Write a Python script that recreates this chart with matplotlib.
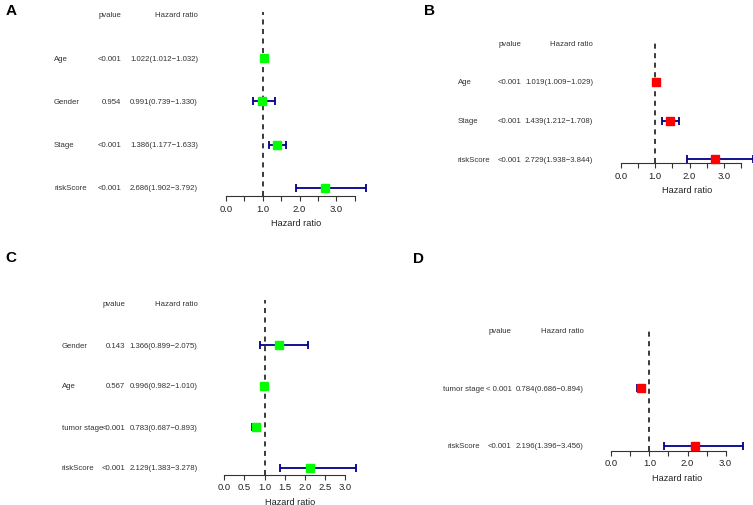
import numpy as np
import matplotlib
matplotlib.use("Agg")
import matplotlib.pyplot as plt
from matplotlib import transforms

plt.rcParams['font.family'] = ['Liberation Sans', 'DejaVu Sans']

W, H = 753, 506

# panel A
a_genes = ['Age', 'Gender', 'Stage', 'riskScore']
a_pval = ['<0.001', '0.954', '<0.001', '<0.001']
a_hr = [1.022, 0.991, 1.386, 2.686]
a_low = [1.012, 0.739, 1.177, 1.902]
a_high = [1.032, 1.330, 1.633, 3.792]

# panel B
b_genes = ['Age', 'Stage', 'riskScore']
b_pval = ['<0.001', '<0.001', '<0.001']
b_hr = [1.019, 1.439, 2.729]
b_low = [1.009, 1.212, 1.938]
b_high = [1.029, 1.708, 3.844]

# panel C
c_genes = ['Gender', 'Age', 'tumor stage', 'riskScore']
c_pval = ['0.143', '0.567', '<0.001', '<0.001']
c_hr = [1.366, 0.996, 0.783, 2.129]
c_low = [0.899, 0.982, 0.687, 1.383]
c_high = [2.075, 1.010, 0.893, 3.278]

# panel D
d_genes = ['tumor stage', 'riskScore']
d_pval = ['< 0.001', '<0.001']
d_hr = [0.784, 2.196]
d_low = [0.686, 1.396]
d_high = [0.894, 3.456]

fig = plt.figure(figsize=(W / 100, H / 100), dpi=100)
fig.patch.set_facecolor('white')


def fx(px):
    return px / W


def fy(py):
    return 1 - py / H


def forest(tag, genes, pvals, hr, low, high, box, L):
    n = len(genes)
    hr = np.array(hr)
    low = np.array(low)
    high = np.array(high)
    xmax = high.max()
    # y geometry in row units
    ybot = 1 - (L['ax_y'] - L['row1']) / L['step']
    ytop = n + 1 + (L['row1'] - n * L['step'] - L['top_y']) / L['step']
    left = fx(L['x0'])
    width = xmax * L['ppu'] / W
    bottom = fy(L['ax_y'])
    height = fy(L['top_y']) - bottom
    ax = fig.add_axes([left, bottom, width, height])
    ax.set_xlim(0, xmax)
    ax.set_ylim(ybot, ytop)
    ax.patch.set_alpha(0)

    ys = np.arange(n, 0, -1)
    ax.errorbar(hr, ys, xerr=[hr - low, high - hr], fmt='none',
                ecolor='#00008B', elinewidth=1.3, capsize=2.7,
                capthick=1.3, clip_on=False, zorder=2)
    ax.axvline(1, color='#3a3a3a', lw=1.4, ls=(0, (2.6, 2.3)), zorder=2.5)
    ax.plot(hr, ys, 's', color=box, ms=5.2, mec=box, zorder=3,
            clip_on=False)

    for s in ['top', 'left', 'right']:
        ax.spines[s].set_visible(False)
    ax.spines['bottom'].set_bounds(0, L['end'])
    ax.spines['bottom'].set_linewidth(0.8)
    ax.spines['bottom'].set_color('#333333')
    ticks = np.arange(0, L['end'] + 0.01, 0.5)
    ax.set_xticks(ticks)
    if L['half_labels']:
        ax.set_xticklabels(['%.1f' % t for t in ticks])
    else:
        ax.set_xticklabels(['%.1f' % t if t == int(t) else '' for t in ticks])
    ax.set_yticks([])
    ax.tick_params(axis='x', direction='out', length=3.6, width=0.8,
                   color='#333333', pad=2, labelsize=6.8, labelcolor='#222222')
    ax.set_xlabel('Hazard ratio', fontsize=6.6, labelpad=3.8, color='#222222')

    tr = transforms.blended_transform_factory(fig.transFigure, ax.transData)
    fs = 5.6
    col = '#333333'
    for y, g, p, h, lo, hi in zip(ys, genes, pvals, hr, low, high):
        ax.text(fx(L['lab_x']), y, g, transform=tr, ha=L['lab_ha'],
                va='center', fontsize=fs, color=col)
        ax.text(fx(L['p_x']), y, p, transform=tr, ha='right',
                va='center', fontsize=fs, color=col)
        ax.text(fx(L['hr_x']), y, '%.3f(%.3f\u2212%.3f)' % (h, lo, hi),
                transform=tr, ha='right', va='center', fontsize=fs, color=col)
    ax.text(fx(L['p_x']), n + 1, 'pvalue', transform=tr, ha='right',
            va='center', fontsize=fs, color=col)
    ax.text(fx(L['hr_x']), n + 1, 'Hazard ratio', transform=tr, ha='right',
            va='center', fontsize=fs, color=col)

    fig.text(fx(L['tag'][0]), fy(L['tag'][1]), tag, fontsize=11,
             fontweight='bold', ha='left', va='center')


forest('A', a_genes, a_pval, a_hr, a_low, a_high, '#00FF00',
       dict(tag=(6, 11), lab_x=54, lab_ha='left', p_x=121, hr_x=198,
            x0=226, ppu=36.8, row1=189, step=43.3, ax_y=197, top_y=12.7,
            end=3.5, half_labels=False))
forest('B', b_genes, b_pval, b_hr, b_low, b_high, '#FF0000',
       dict(tag=(424, 11), lab_x=458, lab_ha='left', p_x=521, hr_x=593,
            x0=620.7, ppu=34.4, row1=160, step=38.5, ax_y=164, top_y=43.5,
            end=3.5, half_labels=False))
forest('C', c_genes, c_pval, c_hr, c_low, c_high, '#00FF00',
       dict(tag=(5, 258), lab_x=61.7, lab_ha='left', p_x=125, hr_x=197.7,
            x0=224.3, ppu=40.2, row1=469, step=41, ax_y=475.7, top_y=301,
            end=3.0, half_labels=True))
forest('D', d_genes, d_pval, d_hr, d_low, d_high, '#FF0000',
       dict(tag=(413, 259), lab_x=463.7, lab_ha='center', p_x=511.7, hr_x=583.7,
            x0=611.3, ppu=38.1, row1=446.7, step=57.4, ax_y=451.7, top_y=331.3,
            end=3.0, half_labels=False))

fig.savefig('out.png', dpi=100, facecolor='white')
